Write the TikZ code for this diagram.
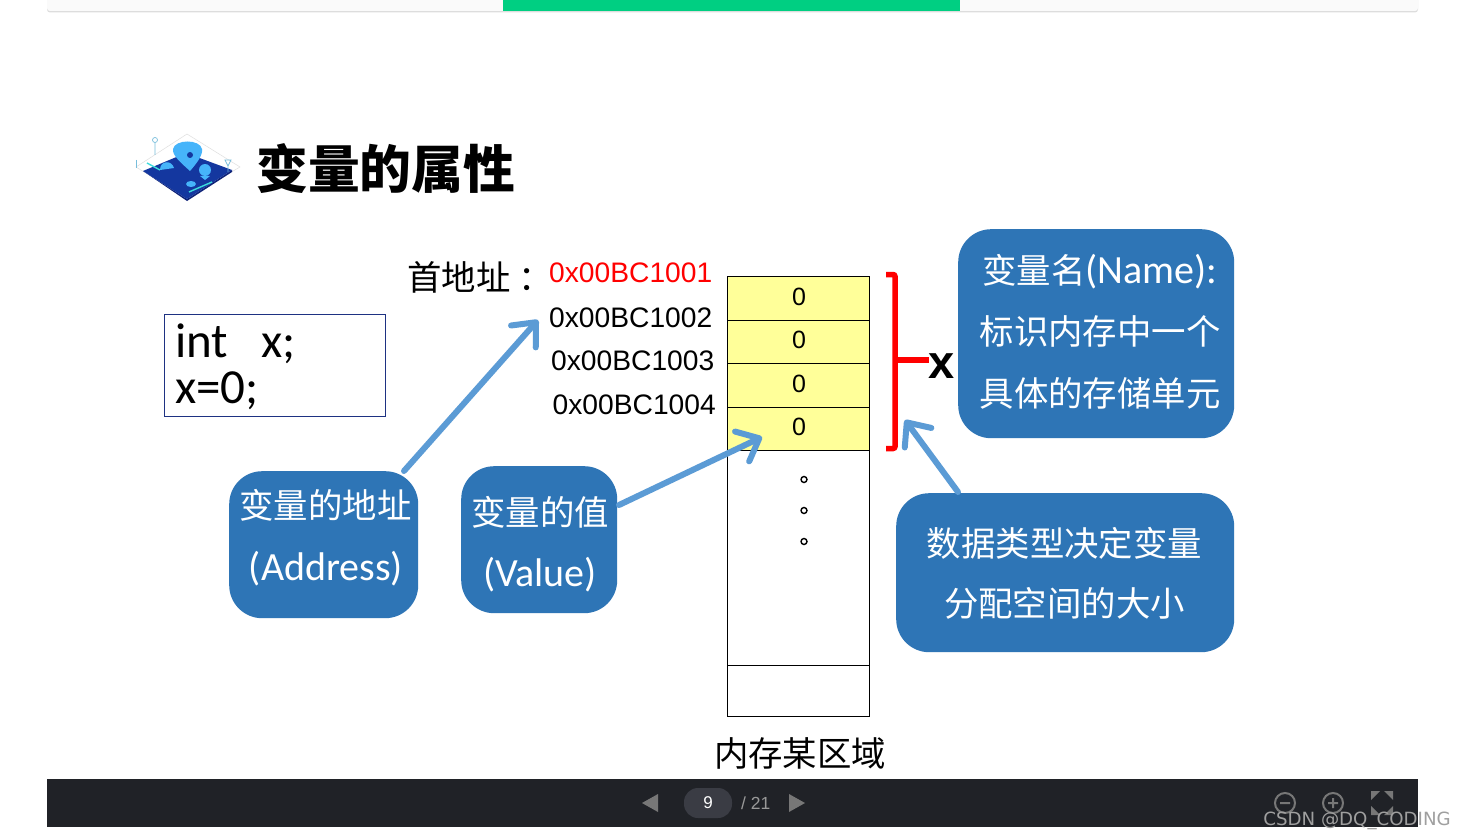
\documentclass[tikz,border=0pt]{standalone}
\usepackage{fontspec}
\setmainfont{Liberation Sans}
\newfontfamily\cjk{Noto Sans CJK SC}
\newfontfamily\cali{Carlito}
\newfontfamily\wmfont{DejaVu Sans}
\usetikzlibrary{arrows.meta}
\definecolor{boxblue}{HTML}{2E75B6}
\definecolor{arrblue}{HTML}{5B9BD5}
\definecolor{cellyellow}{HTML}{FFFF99}
\definecolor{barblack}{HTML}{202227}
\definecolor{pill}{HTML}{3A3C44}
\definecolor{icongrey}{HTML}{777777}
\definecolor{topgreen}{HTML}{00CF82}
\definecolor{topgrey}{HTML}{FAFAFA}
\definecolor{topshadow}{HTML}{DDDDDD}
\definecolor{iconbase}{HTML}{14379F}
\definecolor{iconedge}{HTML}{0F2378}
\definecolor{iconlight}{HTML}{46B4FA}
\definecolor{iconcyan}{HTML}{3CDCDC}
\definecolor{iconline}{HTML}{78BEDC}
\definecolor{codeedge}{HTML}{1E3282}
\tikzset{
 x=1pt,y=-1pt,
 infobox/.style={fill=boxblue,rounded corners=33pt,inner sep=0pt},
 callout/.style={draw=arrblue,line width=6pt,-{Straight Barb[length=19pt,width=33pt,line width=6pt,round]},line cap=round},
 addr/.style={font=\fontsize{28.2}{30}\selectfont,anchor=base west,inner sep=0pt},
 cell/.style={draw=black,line width=1pt,minimum width=142pt,inner sep=0pt,anchor=north west},
 zero/.style={font=\fontsize{25}{25}\selectfont,inner sep=0pt},
 memtext/.style={font=\cjk\fontsize{34.4}{40}\selectfont,inner sep=0pt},
 lattext/.style={font=\cali\fontsize{40}{40}\selectfont,inner sep=0pt,text=white},
 dot/.style={circle,draw=black,line width=1.4pt,minimum size=6pt,inner sep=0pt},
 ctl/.style={icongrey,line width=2pt}
}
\begin{document}
\begin{tikzpicture}
\useasboundingbox (0,0) rectangle (1465,840);
\fill[white] (0,0) rectangle (1465,840);
% top bar
\fill[topshadow,rounded corners=3pt] (47,-5) rectangle (1418,12.5);
\fill[topgrey,rounded corners=3pt] (47,-5) rectangle (1418,11);
\fill[topgreen] (503,0) rectangle (960,11);
% icon
\draw[gray!25,line width=.5pt] (187,134) -- (240,167) -- (187,198) -- (136,167) -- cycle;
\fill[iconedge] (143,171) -- (187,201) -- (232,172) -- (232,170) -- (187,199) -- cycle;
\fill[iconbase] (186,153) -- (232,170) -- (187,199) -- (143,171) -- cycle;
\fill[iconlight] (190,171) .. controls (180,162) and (172,155) .. (173,149) .. controls (175,139) and (200,139) .. (202,149) .. controls (203,155) and (197,163) .. (190,171) -- cycle;
\fill[iconbase] (190,155) circle (3pt);
\fill[iconlight] (205,170) circle (6pt);
\fill[iconlight] (200,176) -- (210,176) -- (205,180) -- cycle;
\fill[iconlight] (160,170) .. controls (160,160) and (172,160) .. (174,168) -- cycle;
\fill[iconlight] (191,184) ellipse (5pt and 3pt);
\draw[iconcyan,line width=1.4pt] (147,163) -- (160,170);
\draw[iconcyan,line width=1.4pt] (189,192) -- (212,182);
\draw[iconline,line width=.7pt] (155,140) circle (2.5pt) (155,143) -- (155,155);
\draw[iconline,line width=.7pt] (225,160) -- (228,166) -- (231,160) -- cycle (228,166) -- (228,172);
\draw[iconline,line width=.7pt] (136,160) -- (136,168);
% title
\node[anchor=base west,inner sep=0pt,font=\cjk\bfseries\fontsize{51.8}{52}\selectfont] (title) at (256,189) {变量的属性};
% code box
\node[draw=codeedge,line width=1pt,minimum width=221pt,minimum height=102pt,anchor=north west,inner sep=0pt] (code) at (164,314) {};
\node[anchor=base west,inner sep=0pt,font=\cali\fontsize{49}{49}\selectfont] (l1) at (175,357) {int\hspace{22pt} x;};
\node[anchor=base west,inner sep=0pt,font=\cali\fontsize{49}{49}\selectfont] (l2) at (175,403) {x=0;};
% addresses
\node[memtext,anchor=base west] (first) at (407,290) {首地址\hspace{8pt}：};
\node[addr,text=red] (a1) at (549,282) {0x00BC1001};
\node[addr] (a2) at (549,327) {0x00BC1002};
\node[addr] (a3) at (551,370) {0x00BC1003};
\node[addr] (a4) at (552.5,414) {0x00BC1004};
% memory
\node[cell,fill=cellyellow,minimum height=44pt] (c1) at (727,276) {};
\node[cell,fill=cellyellow,minimum height=43.5pt] (c2) at (727,320) {};
\node[cell,fill=cellyellow,minimum height=43.5pt] (c3) at (727,363) {};
\node[cell,fill=cellyellow,minimum height=43.5pt] (c4) at (727,406.5) {};
\node[cell,minimum height=215pt] (c5) at (727,450) {};
\node[cell,minimum height=51pt] (c6) at (727,665) {};
\node[zero,anchor=base] (z1) at (799,305.5) {0};
\node[zero,anchor=base] (z2) at (799,348.5) {0};
\node[zero,anchor=base] (z3) at (799,392.5) {0};
\node[zero,anchor=base] (z4) at (799,435.5) {0};
\node[dot] (d1) at (804,479.5) {};
\node[dot] (d2) at (804,510.5) {};
\node[dot] (d3) at (804,541.5) {};
\node[memtext] (mem) at (800,753) {内存某区域};
% bracket
\draw[red,line width=5.5pt,rounded corners=2pt] (886,274.5) -- (895,274.5) -- (895,448.5) -- (886,448.5);
\coordinate (brmid) at (895,360);
\node[inner sep=0pt,anchor=base,font=\bfseries\fontsize{47}{47}\selectfont] (xn) at (941.5,378) {x};
\draw[red,line width=5.5pt] (brmid) -- (929,360);
% blue boxes
\node[infobox,minimum width=276pt,minimum height=209pt,anchor=north west] (name) at (958,229) {};
\node[lattext] (n1) at (1100,272) {{\cjk\fontsize{34.4}{40}\selectfont 变量名}(Name):};
\node[memtext,text=white] (n2) at (1100,331) {标识内存中一个};
\node[memtext,text=white] (n3) at (1100,393.5) {具体的存储单元};
\node[infobox,minimum width=189pt,minimum height=147pt,anchor=north west] (addrbox) at (229,471) {};
\node[memtext,text=white] (b1) at (325.5,505) {变量的地址};
\node[lattext] (b2) at (326,569) {(Address)};
\node[infobox,minimum width=156pt,minimum height=147pt,anchor=north west] (valbox) at (461,466) {};
\node[memtext,text=white] (v1) at (540,512) {变量的值};
\node[lattext] (v2) at (540,575) {(Value)};
\node[infobox,minimum width=338pt,minimum height=159pt,anchor=north west] (typebox) at (896,493) {};
\node[memtext,text=white] (t1) at (1064.5,543) {数据类型决定变量};
\node[memtext,text=white] (t2) at (1064.5,603.5) {分配空间的大小};
% arrows
\coordinate (tipaddr) at (538,320);
\coordinate (tipval) at (762,437);
\coordinate (tiptype) at (905,420);
\coordinate (startaddr) at (404,471);
\coordinate (starttype) at (958,492);
\coordinate (startval) at (619,505);
\draw[callout] (startaddr) -- (tipaddr);
\draw[callout] (startval) -- (tipval);
\draw[callout] (starttype) -- (tiptype);
% bottom bar
\fill[barblack] (47,779) rectangle (1418,827);
\node[fill=pill,rounded corners=14pt,minimum width=48pt,minimum height=30pt,inner sep=0pt,text=white,font=\fontsize{17}{17}\selectfont] (page) at (708,803) {9};
\node[inner sep=0pt,anchor=base west,text=gray!80,font=\fontsize{17.5}{17}\selectfont] (tot) at (741,809) {/ 21};
\fill[icongrey] (642,803) -- (658,794) -- (658,812) -- cycle;
\fill[icongrey] (805,803) -- (789,794) -- (789,812) -- cycle;
\draw[ctl] (1285,803) circle (10pt) (1280,803) -- (1290,803);
\draw[ctl] (1333,803) circle (10pt) (1328,803) -- (1338,803) (1333,798) -- (1333,808);
\fill[icongrey] (1371,791) -- (1380,791) -- (1371,800) -- cycle (1393,791) -- (1384,791) -- (1393,800) -- cycle (1371,815) -- (1380,815) -- (1371,806) -- cycle (1393,815) -- (1384,815) -- (1393,806) -- cycle;
\node[inner sep=0pt,anchor=base east,text=gray!75,font=\wmfont\fontsize{18.2}{21}\selectfont] (wm) at (1451,825) {CSDN @DQ\_CODING};
\end{tikzpicture}
\end{document}
